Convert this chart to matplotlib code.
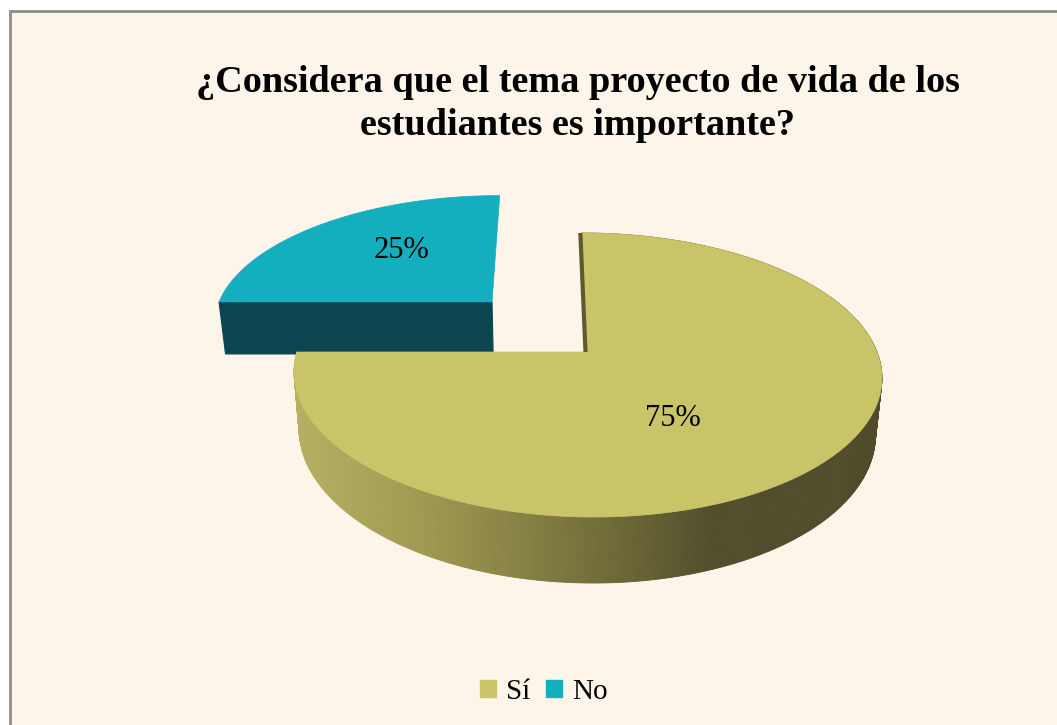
"""
3D exploded pie: ¿Considera que el tema proyecto de vida ... es importante?
Drawn by hand as polygons in pixel space with a small perspective model,
since matplotlib has no 3D pie.
"""
import numpy as np
import matplotlib

matplotlib.use("Agg")
import matplotlib.pyplot as plt
from matplotlib.patches import Polygon, Rectangle, Patch

# ---- data ----
labels = ["Sí", "No"]
values = [75, 25]
pct_text = ["75%", "25%"]

TITLE = "¿Considera que el tema proyecto de vida de los\nestudiantes es importante?"

# ---- style ----
BG = "#FDF5EA"
BORDER = "#8C8C8C"
TOP = ["#C9C468", "#13AFBF"]
CUT = ["#5E5A30", "#0A4550"]
SIDE_STOPS_X = [298, 420, 560, 640, 710, 890]
SIDE_STOPS_RGB = [(182, 176, 98), (160, 154, 82), (125, 120, 63),
                  (102, 98, 52), (82, 78, 44), (80, 76, 43)]

# perspective model (pixels): pie centre, radii, depth, tilt
CX, CY = 587, 352
VX = 550
A, B, D = 290, 138.3, 55.3
K = 0.162
M = 0.02                                     # bottom plane shrinks a little
EXPLODE = [(0.0, 0.0), (-0.34, -0.385)]      # world offset of each slice
LABEL_UV = [(0.266, 0.443), (-0.367, -0.45)]  # label spot, rel. to slice centre


def proj(u, v, z=0.0):
    w = 1 - K * v
    x = VX + (CX - VX + A * u) / (w * (1 + M * z))
    y = CY + (B * v + D * z) / w
    return x, y


def rim(phi, off, z=0.0):
    # phi: degrees clockwise from 12 o'clock
    t = np.radians(phi)
    return proj(off[0] + np.sin(t), off[1] - np.cos(t), z)


def side_color(x):
    rgb = [np.interp(x, SIDE_STOPS_X, [c[i] for c in SIDE_STOPS_RGB]) for i in range(3)]
    return tuple(c / 255 for c in rgb)


fig = plt.figure(figsize=(10.57, 7.25), dpi=100, facecolor="white")
ax = fig.add_axes([0, 0, 1, 1])
ax.set_xlim(0, 1057)
ax.set_ylim(725, 0)
ax.axis("off")

ax.add_patch(Rectangle((9.5, 11), 1200, 900, facecolor=BG, edgecolor=BORDER, lw=2))

ax.text(578, 104, TITLE, ha="center", va="center", fontsize=27.5, fontweight="bold",
        family="Liberation Serif", linespacing=1.3)

# slice angle ranges from the values
total = sum(values)
starts = np.cumsum([0] + values[:-1]) / total * 360
spans = np.array(values) / total * 360

# draw the back (exploded) slice first, then the big one
for i in [1, 0]:
    a0, a1 = starts[i], starts[i] + spans[i]
    off = EXPLODE[i]
    c_top = proj(off[0], off[1], 0)
    c_bot = proj(off[0], off[1], 1)

    if i == 0:
        # outer side, back to front, shaded by x
        phis = np.linspace(a0, a1, int(spans[i] * 2) + 2)
        strips = []
        for p0, p1 in zip(phis[:-1], phis[1:]):
            vmid = -np.cos(np.radians((p0 + p1) / 2))
            pts = [rim(p0, off), rim(p1, off), rim(p1, off, 1), rim(p0, off, 1)]
            strips.append((vmid, pts))
        strips.sort(key=lambda s: s[0])
        for _, pts in strips:
            col = side_color(np.mean([p[0] for p in pts]))
            ax.add_patch(Polygon(pts, closed=True, facecolor=col, edgecolor=col, lw=0.6))
        # thin dark sliver of the 12 o'clock cut face
        ax.plot([rim(a0, off)[0] - 1.5, c_top[0] - 1.5], [rim(a0, off)[1], c_top[1]],
                color=CUT[0], lw=3, solid_capstyle="butt")
    else:
        # front cut face of the exploded slice (9 o'clock radius)
        pts = [c_top, rim(a0, off), rim(a0, off, 1), c_bot]
        ax.add_patch(Polygon(pts, closed=True, facecolor=CUT[1], edgecolor=CUT[1], lw=0.8))

    # top face
    arc = [rim(p, off) for p in np.linspace(a0, a1, 300)]
    ax.add_patch(Polygon([c_top] + arc, closed=True, facecolor=TOP[i], edgecolor=TOP[i], lw=0.5))

    lx, ly = proj(off[0] + LABEL_UV[i][0], off[1] + LABEL_UV[i][1])
    ax.text(lx, ly, pct_text[i], ha="center", va="center", fontsize=22,
            family="Liberation Serif", color="black")

handles = [Patch(facecolor=TOP[j], edgecolor=TOP[j]) for j in range(len(labels))]
ax.legend(handles, labels, loc="center", bbox_to_anchor=(544 / 1057, 1 - 692 / 725),
          ncol=2, frameon=False, prop={"family": "Liberation Serif", "size": 21},
          handlelength=0.55, handleheight=0.55, handletextpad=0.35, columnspacing=0.55)

fig.savefig("out.png", dpi=100, facecolor="white")
